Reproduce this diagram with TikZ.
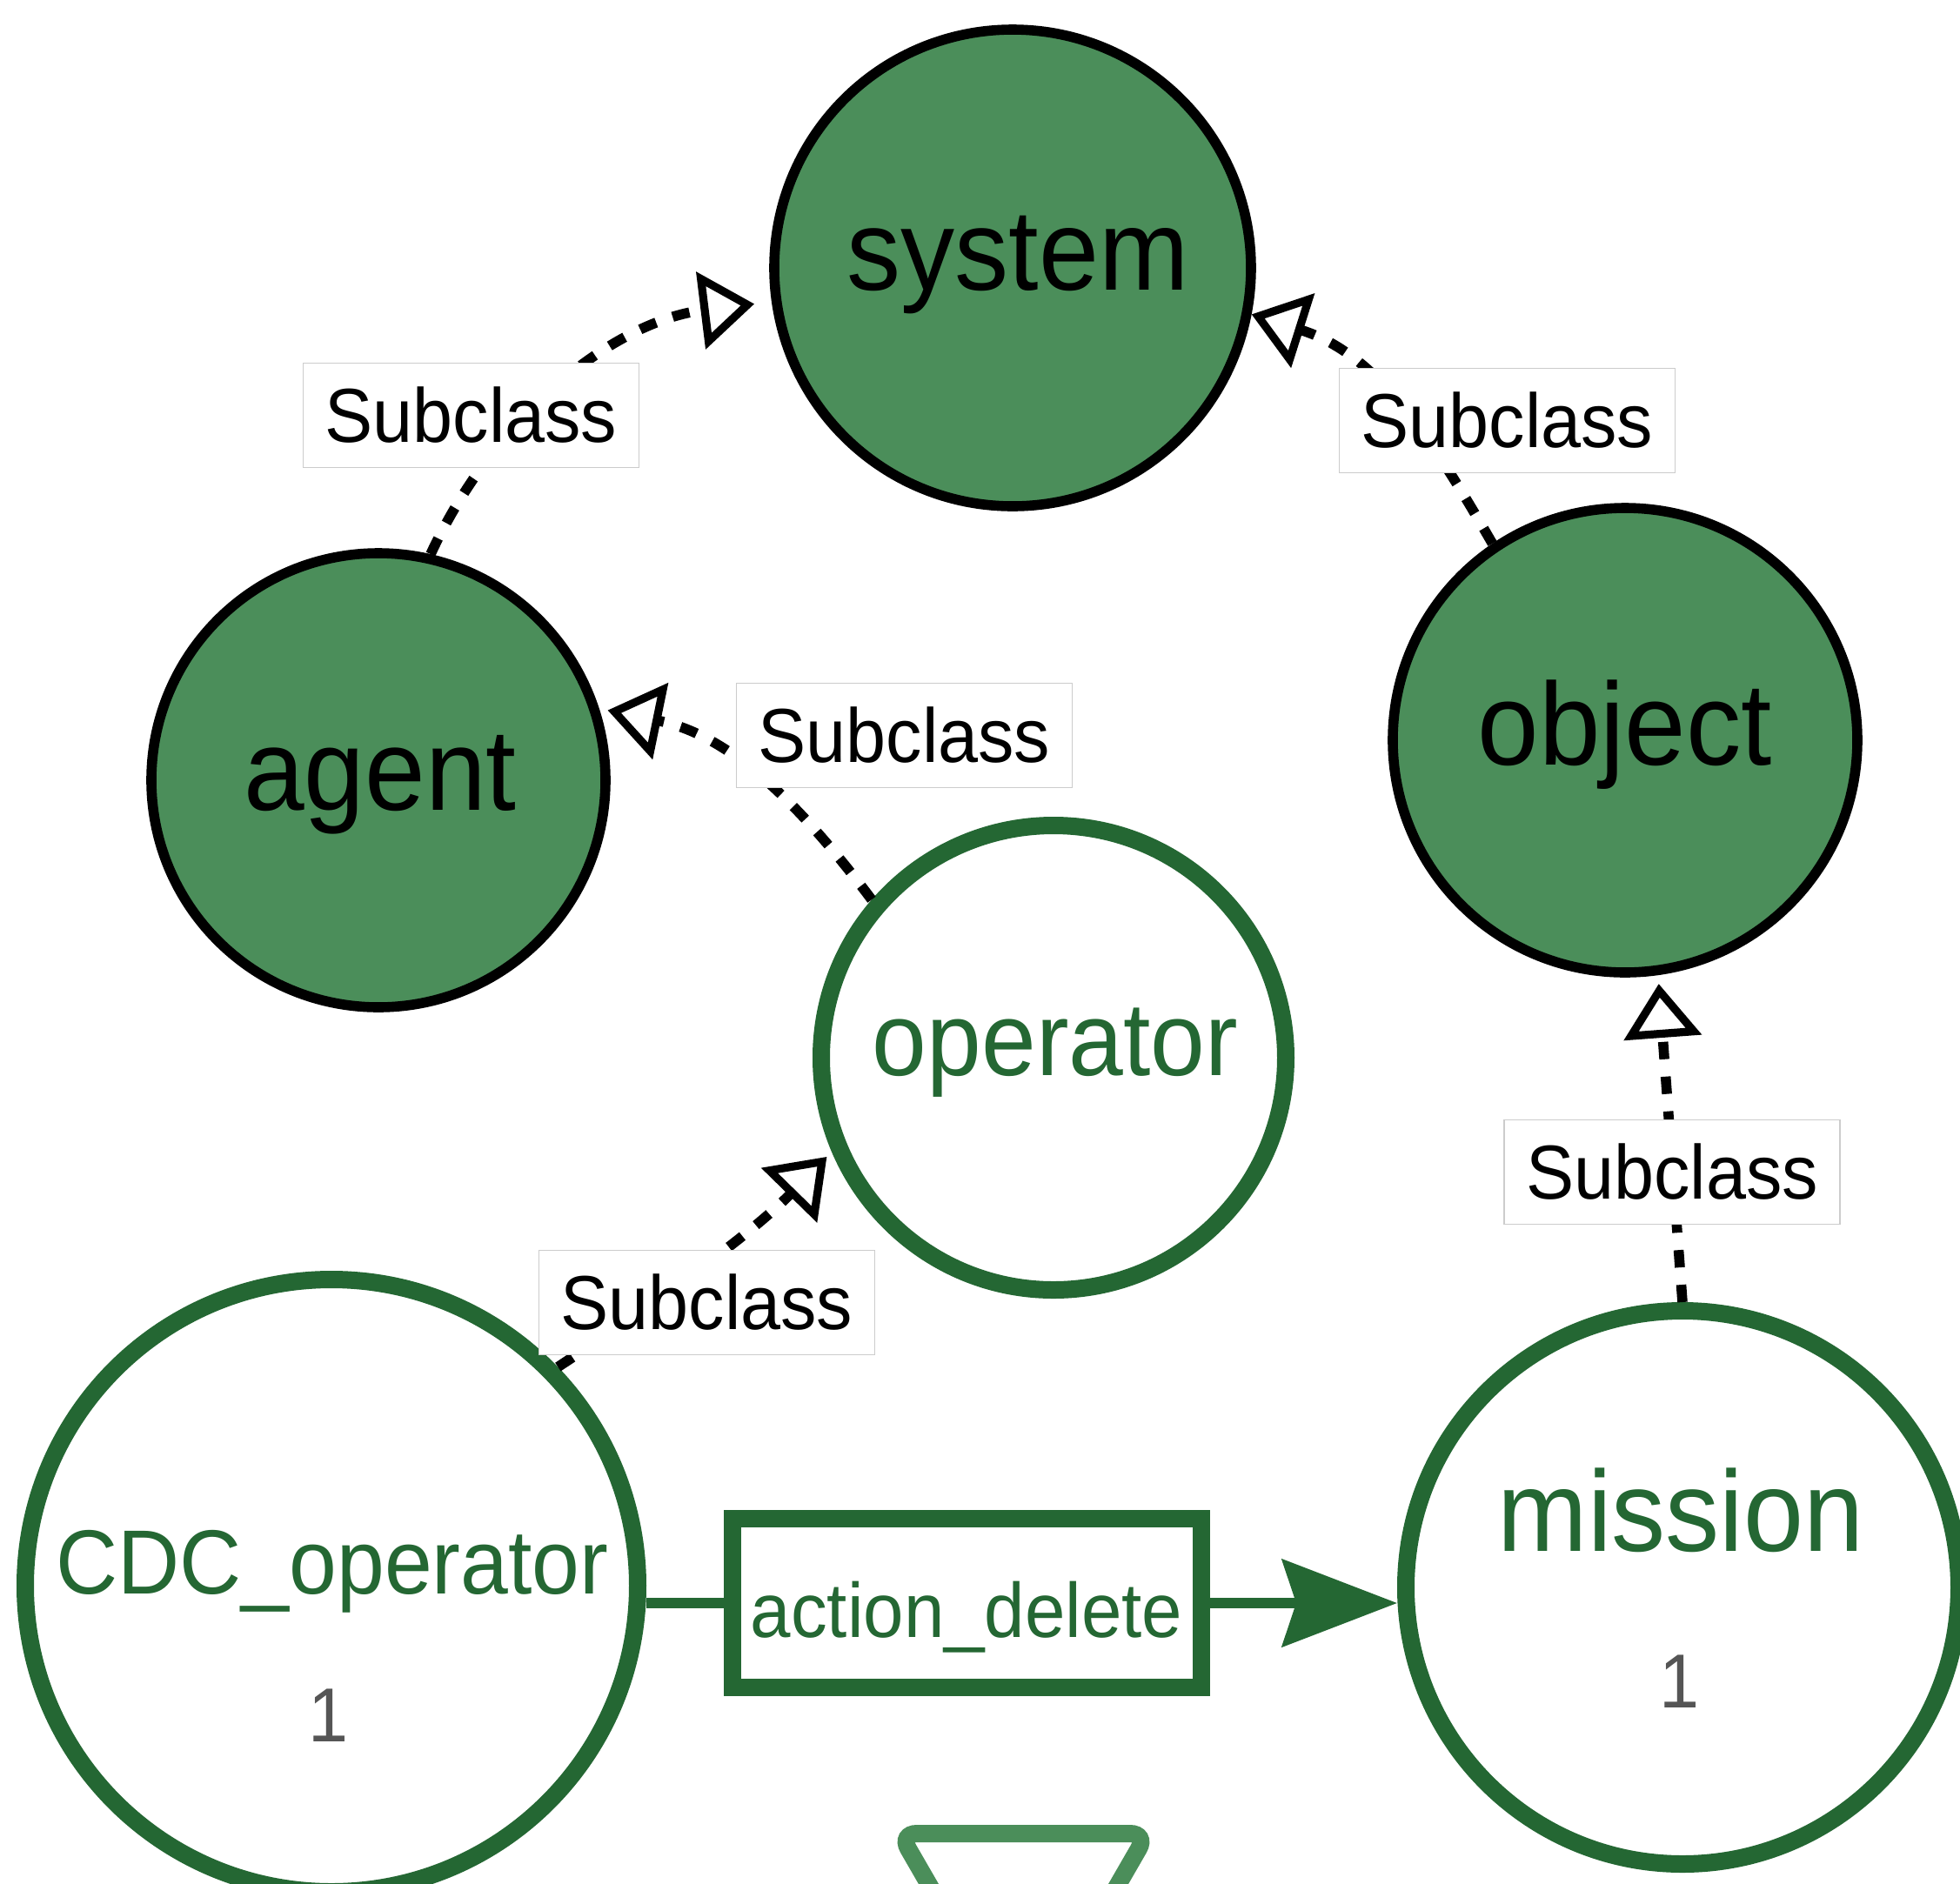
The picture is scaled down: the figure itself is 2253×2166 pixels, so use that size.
\documentclass[tikz,border=0pt]{standalone}
\usepackage{fontspec}
\setmainfont{Liberation Sans}[FakeStretch=0.94]
\usetikzlibrary{arrows.meta}
\definecolor{nodefill}{HTML}{4B8E5A}
\definecolor{dgreen}{HTML}{246733}
\definecolor{numgray}{HTML}{555555}
\definecolor{lblborder}{HTML}{CCCCCC}
\begin{document}
\begin{tikzpicture}[x=0.25pt, y=-0.25pt,
  classnode/.style={circle, draw=black, line width=2.9pt, fill=nodefill, inner sep=0pt},
  instnode/.style={circle, draw=dgreen, line width=5pt, fill=white, inner sep=0pt},
  nametxt/.style={anchor=base, inner sep=0pt},
  subedge/.style={draw=black, line width=2.9pt, dash pattern=on 5pt off 5pt,
    -{Triangle[open, length=15.5pt, width=22pt, line width=2.3pt]}},
  sublabel/.style={draw=lblborder, line width=0.4pt, fill=white, minimum width=96.5pt,
    minimum height=30pt, inner sep=0pt, font=\fontsize{22}{26}\selectfont},
  actedge/.style={draw=dgreen, line width=3pt},
]
\useasboundingbox[fill=white] (0,0) rectangle (2253,2166);

% class nodes
\node[classnode, minimum size=137pt] (system) at (1164,308) {};
\node[classnode, minimum size=130.5pt] (agent) at (435,897) {};
\node[classnode, minimum size=133.5pt] (object) at (1868,851) {};
% instance nodes
\node[instnode, minimum size=133.5pt] (operator) at (1211,1216) {};
\node[instnode, minimum size=176pt] (cdc) at (381,1823) {};
\node[instnode, minimum size=159pt] (mission) at (1934,1825) {};
\node[draw=dgreen, line width=5pt, fill=white, minimum width=134.75pt,
  minimum height=48.5pt, inner sep=0pt] (action) at (1111.5,1843) {};

% partially visible shape at the bottom
\draw[nodefill, line width=5pt, rounded corners=5pt]
  (1034,2108) -- (1319,2108) -- (1176.5,2355) -- cycle;

% node texts
\node[nametxt, font=\fontsize{33}{40}\selectfont] (systemtxt) at (1170,333) {system};
\node[nametxt, font=\fontsize{33.3}{40}\selectfont] (agenttxt) at (437,931) {agent};
\node[nametxt, font=\fontsize{33.7}{40}\selectfont] (objecttxt) at (1868,879) {object};
\node[nametxt, text=dgreen, font=\fontsize{30}{36}\selectfont] (operatortxt) at (1213,1236) {operator};
\node[nametxt, text=dgreen, font=\fontsize{26.2}{32}\selectfont] (cdctxt) at (382,1832) {CDC\_operator};
\node[nametxt, text=numgray, font=\fontsize{22}{26}\selectfont] (cdcnum) at (378,2002) {1};
\node[nametxt, text=dgreen, font=\fontsize{33}{40}\selectfont] (missiontxt) at (1932,1783) {mission};
\node[nametxt, text=numgray, font=\fontsize{22}{26}\selectfont] (missionnum) at (1930,1963) {1};
\node[nametxt, text=dgreen, font=\fontsize{22.2}{27}\selectfont] (actiontxt) at (1111,1882) {action\_delete};

% subclass edges
\draw[subedge, shorten >=5pt] (agent.77.2) .. controls +(76,-164) and +(-178,22) .. (system.188.5);
\draw[subedge] (object.124.5) .. controls +(-75,-130) and +(142,45) .. (system.349.1);
\draw[subedge, shorten >=2.5pt] (operator.139.4) .. controls +(-90,-120) and +(146,30) .. (agent.18.6);
\draw[subedge, shorten >=2pt] (cdc.44) .. controls +(112,-74) and +(-95,97) .. (operator.203.9);
\draw[subedge, shorten >=2.5pt] (mission.90.7) -- (object.278.1);

% action edge
\draw[actedge] (action.west -| cdc.east) -- (action.west);
\draw[actedge, -{Stealth[length=33pt, width=25pt, inset=4pt]}] (action.east) -- (action.east -| mission.west);

% edge labels
\node[sublabel] (l1) at (541.5,477.5) {Subclass};
\node[sublabel] (l2) at (1732.5,483.5) {Subclass};
\node[sublabel] (l3) at (1039.5,845.5) {Subclass};
\node[sublabel] (l4) at (812.5,1497.5) {Subclass};
\node[sublabel] (l5) at (1922,1347.5) {Subclass};
\end{tikzpicture}
\end{document}
